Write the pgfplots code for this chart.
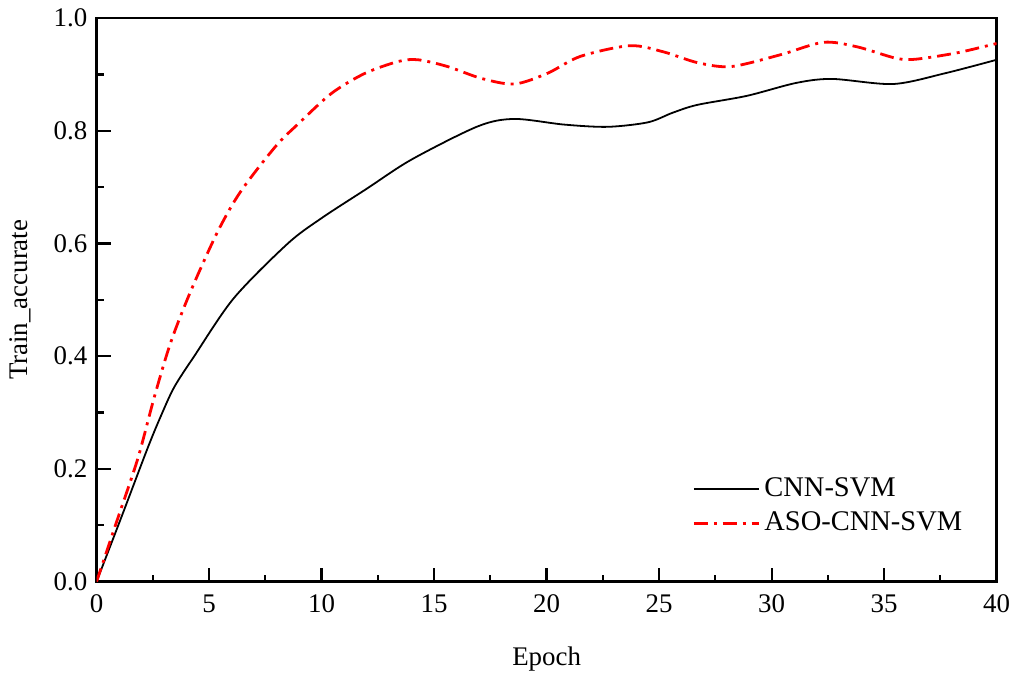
\documentclass[border=0pt]{standalone}
\usepackage{pgfplots}
\pgfplotsset{compat=1.18}
\usepackage{fontspec}
\setmainfont{Liberation Serif}
\begin{document}
\fontsize{13.5pt}{16pt}\selectfont
\begin{tikzpicture}
\begin{axis}[
  name=ax,
  scale only axis,
  width=452pt, height=283pt,
  xmin=0, xmax=40, ymin=0, ymax=1,
  xtick={0,5,...,40},
  ytick={0,0.2,...,1.0},
  minor x tick num=1, minor y tick num=1,
  xtick pos=bottom, ytick pos=left,
  tick align=inside,
  major tick length=7pt, minor tick length=3.5pt,
  every tick/.style={line width=1.1pt, black},
  axis line style={line width=1.4pt},
  /pgf/number format/assume math mode=true,
  yticklabel style={/pgf/number format/.cd, fixed, fixed zerofill, precision=1},
  ticklabel style={font=\fontsize{13.5pt}{16pt}\selectfont},
  xticklabel style={yshift=-2pt},
  xlabel={Epoch}, ylabel={Train\_accurate},
  label style={font=\fontsize{13.5pt}{16pt}\selectfont},
  xlabel style={at={(axis description cs:0.5,-0.138)}, anchor=center},
  ylabel style={at={(axis description cs:-0.085,0.5)}, anchor=center},
  legend style={draw=none, fill=none, at={(0.655,0.2)}, anchor=north west,
    font=\fontsize{14.3pt}{17pt}\selectfont, row sep=2pt},
  legend cell align=left,
  legend image code/.code={\draw[#1] (0cm,0cm) -- (1.15cm,0cm);},
]
\addplot[black, line width=0.9pt, smooth] coordinates {
(0,0) (1.09,0.113) (2.27,0.237) (2.86,0.294) (3.45,0.345) (4.34,0.400)
(6.1,0.503) (8.5,0.600) (10,0.645) (12,0.697)
(14.0,0.749) (16.95,0.808) (18.57,0.821) (20.78,0.811) (22.7,0.807)
(24.5,0.815) (25.6,0.832) (26.7,0.846) (28.9,0.862) (31.1,0.885)
(32.7,0.892) (35.4,0.883) (37.7,0.902) (40,0.926)
};
\addlegendentry{CNN-SVM}
\addplot[red, line width=1.4pt, smooth, dash pattern=on 7pt off 3pt on 1.5pt off 3pt] coordinates {
(0,0) (0.94,0.112) (1.83,0.218) (2.57,0.328) (3.30,0.425) (4.19,0.516)
(5.37,0.620) (6.40,0.692) (7.95,0.772) (8.98,0.813) (10.46,0.867)
(11.93,0.902) (13.41,0.923) (14.29,0.926) (15.6,0.914) (17.1,0.893)
(18.57,0.883) (20.04,0.902) (21.5,0.932) (23.7,0.951) (25.2,0.940)
(26.7,0.921) (28.2,0.914) (30.4,0.935) (32.3,0.957) (33.8,0.949)
(35.5,0.929) (36.4,0.927) (38.2,0.938) (39.7,0.952) (40,0.955)
};
\addlegendentry{ASO-CNN-SVM}
\end{axis}
\path ([shift={(-48.5pt,-48.5pt)}]ax.south west) rectangle ([shift={(9pt,9pt)}]ax.north east);
\end{tikzpicture}
\end{document}
